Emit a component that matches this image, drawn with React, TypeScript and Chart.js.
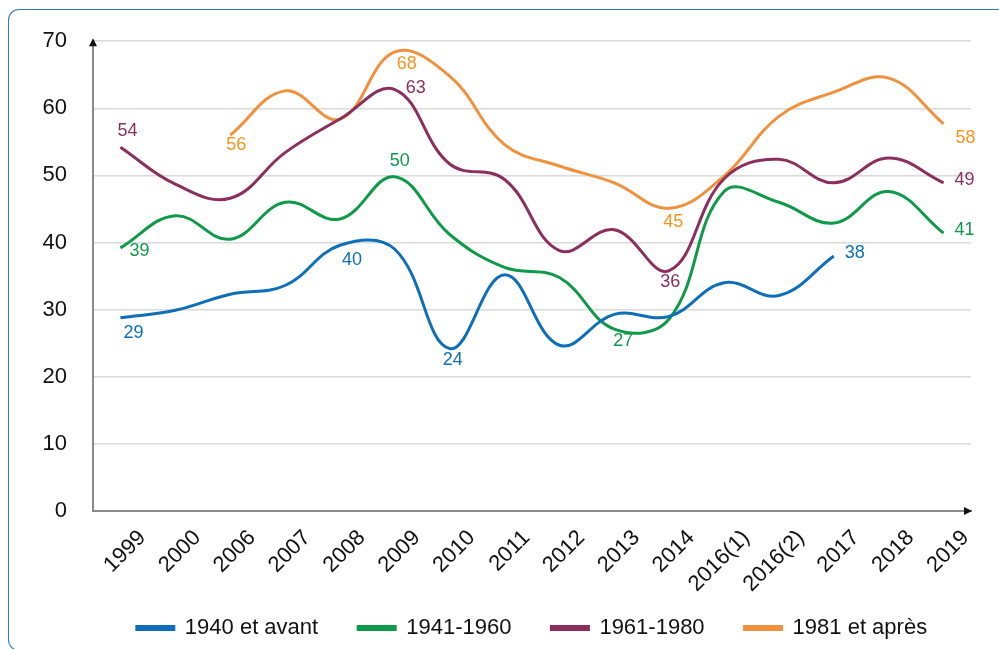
import React, { useEffect, useRef } from 'react';
import { Chart, registerables } from 'chart.js';

Chart.register(...registerables);

const categories = ['1999', '2000', '2006', '2007', '2008', '2009', '2010', '2011', '2012', '2013', '2014', '2016(1)', '2016(2)', '2017', '2018', '2019'];

const serie1940 = [28.8, 29.9, 32.3, 33.6, 39.6, 39.0, 24.2, 35.2, 24.7, 29.3, 29.0, 34.0, 32.1, 38.0, null, null];
const serie1941 = [39.2, 44.0, 40.5, 46.0, 43.5, 49.8, 41.2, 36.3, 34.8, 27.1, 28.6, 47.6, 46.0, 42.9, 47.6, 41.4];
const serie1961 = [54.2, 48.7, 46.6, 53.4, 58.4, 62.8, 51.7, 49.4, 38.8, 41.9, 35.8, 49.5, 52.4, 48.9, 52.6, 48.9];
const serie1981 = [null, null, 56.0, 62.6, 58.4, 68.4, 64.8, 54.6, 51.4, 48.9, 45.1, 49.9, 58.8, 62.4, 64.5, 57.7];

const seriesNames = ['1940 et avant', '1941-1960', '1961-1980', '1981 et après'];
const yTicks = [0, 10, 20, 30, 40, 50, 60, 70];

// which points carry a value label (series index, category index)
const labelledPoints = [
  [0, 0], [0, 4], [0, 6], [0, 13],
  [1, 0], [1, 5], [1, 9], [1, 15],
  [2, 0], [2, 5], [2, 10], [2, 15],
  [3, 2], [3, 5], [3, 10], [3, 15],
];

// label offsets (style only)
const labelOffsets: Record<string, [number, number]> = {
  '0-0': [13, 15], '0-4': [12, 15], '0-6': [3, 11], '0-13': [21, -3],
  '1-0': [19, 3], '1-5': [5, -16], '1-9': [9, 12], '1-15': [21, -3],
  '2-0': [7, -16], '2-5': [21, -1], '2-10': [1, 11], '2-15': [21, -3],
  '3-2': [6, 10], '3-5': [12, 12], '3-10': [4, 14], '3-15': [22, 14],
};

const colors = ['#0E6FB8', '#0E9A48', '#8B2F5F', '#F2913D'];
const labelColors = ['#0E6FB8', '#0E9A48', '#8B2F5F', '#F7941D'];

const FONT = '"Liberation Sans", Arial, sans-serif';

const arrowsPlugin = {
  id: 'axisArrows',
  afterLayout(chart: any) {
    // let the rotated category labels run past the axis box (no clipping)
    const x = chart.scales.x;
    if (x) x._computeLabelArea = () => undefined;
  },
  afterDraw(chart: any) {
    const { ctx, chartArea } = chart;
    ctx.save();
    ctx.fillStyle = '#111';
    ctx.beginPath();
    ctx.moveTo(chartArea.left, chartArea.top - 3);
    ctx.lineTo(chartArea.left - 4, chartArea.top + 5);
    ctx.lineTo(chartArea.left + 4, chartArea.top + 5);
    ctx.closePath();
    ctx.fill();
    ctx.beginPath();
    ctx.moveTo(chartArea.right + 1, chartArea.bottom);
    ctx.lineTo(chartArea.right - 7, chartArea.bottom - 4);
    ctx.lineTo(chartArea.right - 7, chartArea.bottom + 4);
    ctx.closePath();
    ctx.fill();
    ctx.restore();
  },
};

const valueLabelsPlugin = {
  id: 'valueLabels',
  afterDatasetsDraw(chart: any) {
    const { ctx } = chart;
    ctx.save();
    ctx.font = `18px ${FONT}`;
    ctx.textAlign = 'center';
    ctx.textBaseline = 'middle';
    labelledPoints.forEach(([s, i]) => {
      const meta = chart.getDatasetMeta(s);
      const pt = meta.data[i];
      const v = chart.data.datasets[s].data[i];
      if (!pt || v == null) return;
      const [dx, dy] = labelOffsets[`${s}-${i}`] || [0, 0];
      ctx.fillStyle = labelColors[s];
      ctx.fillText(String(Math.round(v)), pt.x + dx, pt.y + dy);
    });
    ctx.restore();
  },
};

export default function App() {
  const ref = useRef<HTMLCanvasElement>(null);

  useEffect(() => {
    document.documentElement.style.overflow = 'hidden';
    document.body.style.overflow = 'hidden';
    const series = [serie1940, serie1941, serie1961, serie1981];
    const chart = new Chart(ref.current!, {
      type: 'line',
      data: {
        labels: categories,
        datasets: series.map((d, k) => ({
          label: seriesNames[k],
          data: d,
          borderColor: colors[k],
          backgroundColor: colors[k],
          borderWidth: 3,
          pointRadius: 0,
          tension: 0.4,
          spanGaps: false,
        })),
      },
      options: {
        responsive: false,
        animation: false,
        layout: { padding: { left: 0, right: 28, top: 22, bottom: 0 } },
        font: { family: FONT },
        plugins: {
          tooltip: { enabled: false },
          legend: {
            position: 'bottom',
            fullSize: false,
            labels: {
              boxWidth: 37,
              boxHeight: 3,
              padding: 40,
              color: '#111',
              font: { family: FONT, size: 22 },
            },
          },
        },
        scales: {
          x: {
            offset: true,
            grid: { display: false, drawTicks: false },
            border: { display: true, color: '#8a8a8a', width: 2 },
            afterFit(scale: any) { scale.height = 66; },
            ticks: {
              autoSkip: false,
              minRotation: 45,
              maxRotation: 45,
              labelOffset: 22,
              padding: 14,
              color: '#111',
              font: { family: FONT, size: 22 },
            },
          },
          y: {
            min: 0,
            max: 70,
            afterFit(scale: any) { scale.width = 84; },
            afterBuildTicks(scale: any) { scale.ticks = yTicks.map((v) => ({ value: v })); },
            grid: { color: '#dadada', lineWidth: 1.5, drawTicks: false },
            border: { display: true, color: '#8a8a8a', width: 2 },
            ticks: {
              padding: 26,
              color: '#111',
              font: { family: FONT, size: 22 },
            },
          },
        },
      },
      plugins: [arrowsPlugin, valueLabelsPlugin],
    });
    return () => chart.destroy();
  }, []);

  return (
    <div
      style={{
        position: 'absolute',
        left: 8,
        top: 9,
        width: 991,
        height: 642,
        border: '1.5px solid #2B7BC4',
        borderRight: 'none',
        borderRadius: '11px 0 0 11px',
        boxSizing: 'border-box',
        background: '#fff',
        overflow: 'hidden',
      }}
    >
      <canvas
        ref={ref}
        width={990}
        height={647}
        style={{ position: 'absolute', left: 0, top: -8, width: 990, height: 647 }}
      />
    </div>
  );
}
